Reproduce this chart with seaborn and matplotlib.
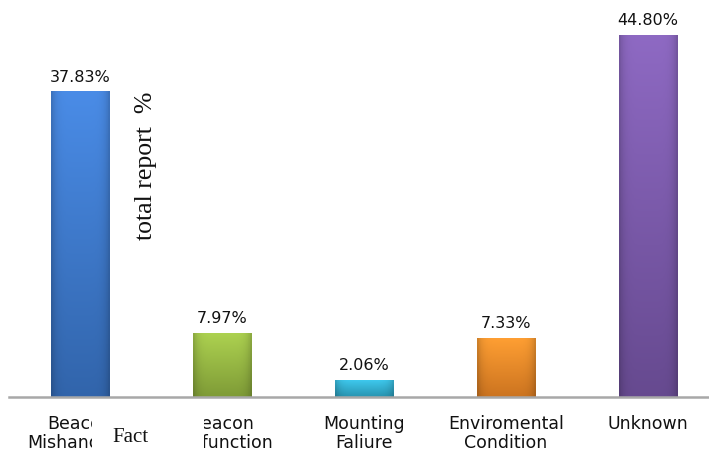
import numpy as np
import pandas as pd
import matplotlib
matplotlib.use("Agg")
import matplotlib.pyplot as plt
from matplotlib.colors import to_rgb
from matplotlib.transforms import Bbox
import seaborn as sns

categories = ["Beacon\nMishandling", "Beacon\nMalfunction", "Mounting\nFaliure",
              "Enviromental\nCondition", "Unknown"]
values = [37.83, 7.97, 2.06, 7.33, 44.80]
value_labels = ["37.83%", "7.97%", "2.06%", "7.33%", "44.80%"]
bar_colors = ["#3b78cc", "#97b941", "#30b0d2", "#f38a26", "#7a58ab"]

sns.set_theme(style="white")
plt.rcParams["font.family"] = ["DejaVu Sans"]

df = pd.DataFrame({"cause": categories, "pct": values})

fig = plt.figure(figsize=(7.09, 4.53), dpi=100)
ax = fig.add_axes([9 / 709, 56 / 453, 700 / 709, 382 / 453])

sns.barplot(data=df, x="cause", y="pct", hue="cause", palette=bar_colors,
            width=0.41, legend=False, ax=ax, saturation=1)

# vertical shading inside each bar
for patch, col in zip(ax.patches, bar_colors):
    x0, y0 = patch.get_x(), patch.get_y()
    w, h = patch.get_width(), patch.get_height()
    base = np.array(to_rgb(col))
    top = np.clip(base * 1.08 + 0.04, 0, 1)
    bottom = base * 0.84
    t = np.linspace(0, 1, 64)[:, None]
    grad = top * (1 - t) + bottom * t
    xs = np.linspace(0, 1, 32)
    edge = 1 - 0.18 * (np.abs(xs - 0.5) * 2) ** 6
    img = grad[:, None, :] * edge[None, :, None]
    im = ax.imshow(img, extent=(x0, x0 + w, y0, y0 + h), aspect="auto",
                   origin="upper", zorder=patch.get_zorder() + 0.1)
    im.set_clip_path(patch)
    patch.set_edgecolor(bottom * 0.9)
    patch.set_linewidth(0.6)

for cont, lab in zip(ax.containers, value_labels):
    ax.bar_label(cont, labels=[lab], padding=5, fontsize=11.5, color="#111111")

ax.set_xlim(-0.5, 4.43)
ax.set_ylim(0, 47.3)
ax.set_xlabel("")
ax.set_ylabel("")
ax.set_yticks([])
ax.tick_params(axis="x", length=0, pad=13, labelsize=12.5, colors="#111111")
for lab in ax.get_xticklabels():
    lab.set_linespacing(1.05)
for s in ["top", "right", "left"]:
    ax.spines[s].set_visible(False)
ax.spines["bottom"].set_color("#a8a8a8")
ax.spines["bottom"].set_linewidth(1.8)

# the "Fact" caption hides the inner ends of the first two category labels
labels = ax.get_xticklabels()
labels[0].set_clip_box(Bbox.from_extents(0, 0, 92, 453 - 408))
labels[0].set_clip_on(True)
labels[1].set_clip_box(Bbox.from_extents(204, 0, 709, 453 - 408))
labels[1].set_clip_on(True)

fig.text(146 / 709, 1 - 166 / 453, "total report  %", rotation=90,
         ha="center", va="center", fontsize=18.5,
         family=["Liberation Serif", "DejaVu Serif"], color="#111111")

fig.text(130 / 709, 1 - 438 / 453, "Fact", ha="center", va="center",
         fontsize=15, family=["Liberation Serif", "DejaVu Serif"],
         color="#111111", zorder=6)

fig.savefig("out.png", dpi=100)
